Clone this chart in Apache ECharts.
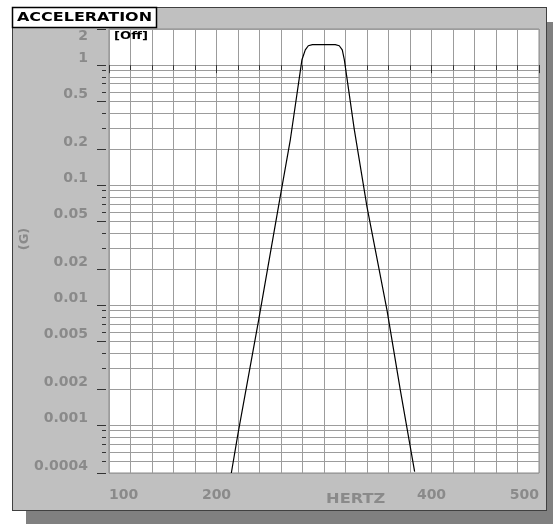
<!DOCTYPE html>
<html>
<head>
<meta charset="utf-8">
<script src="https://cdn.jsdelivr.net/npm/echarts@6/dist/echarts.min.js"></script>
<style>
  html, body { margin: 0; padding: 0; background: #ffffff; }
  body { width: 553px; height: 524px; position: relative; overflow: hidden; }
  #shadow { position: absolute; left: 26px; top: 22px; width: 540px; height: 520px; background: #808080; }
  #panel { position: absolute; left: 12px; top: 7px; width: 535px; height: 504px; background: #c0c0c0; border: 1.5px solid #404040; box-sizing: border-box; }
  #chart { position: absolute; left: 0; top: 0; width: 553px; height: 524px; }
</style>
</head>
<body>
<div id="shadow"></div>
<div id="panel"></div>
<div id="chart"></div>
<script>
// ---- data ----
const freqHz = [213.8, 220, 239.2, 258.7, 268.7, 279.5, 282.6, 285.4, 289.2, 300, 310.5, 314.2, 317, 318.9, 328.2, 340, 358.6, 371, 384.3];
const accelG = [0.0004, 0.00085, 0.0075, 0.075, 0.24, 1.11, 1.34, 1.45, 1.48, 1.48, 1.48, 1.45, 1.34, 1.11, 0.29, 0.066, 0.0091, 0.00196, 0.00041];

const xMin = 100, xMax = 500, xStep = 20;
const xLabelTicks = [100, 200, 400, 500];

const yMin = 0.0004, yMax = 2;
const yMajorTicks = [2, 1, 0.5, 0.2, 0.1, 0.05, 0.02, 0.01, 0.005, 0.002, 0.001, 0.0004];
const yGridValues = [2, 1, 0.9, 0.8, 0.7, 0.6, 0.5, 0.4, 0.3, 0.2,
  0.1, 0.09, 0.08, 0.07, 0.06, 0.05, 0.04, 0.03, 0.02,
  0.01, 0.009, 0.008, 0.007, 0.006, 0.005, 0.004, 0.003, 0.002,
  0.001, 0.0009, 0.0008, 0.0007, 0.0006, 0.0005, 0.0004];

// ---- chart ----
const lg = Math.log10;
const yLo = lg(yMin), yHi = lg(yMax);
const seriesData = freqHz.map((f, i) => [f, lg(accelG[i])]);
const labelFont = { color: '#8a8a8a', fontWeight: 'bold', fontSize: 14, fontFamily: 'DejaVu Sans' };
const tickColor = '#333333';
const gridColor = '#9c9c9c';
const yFmt = v => String(+Math.pow(10, v).toPrecision(1));

const chart = echarts.init(document.getElementById('chart'), null, { renderer: 'canvas' });
chart.setOption({
  animation: false,
  backgroundColor: 'transparent',
  grid: { left: 109, top: 29, right: 14, bottom: 51, show: true, backgroundColor: '#ffffff', borderColor: '#8a8a8a', borderWidth: 1 },
  xAxis: [
    {
      type: 'value', position: 'bottom', min: xMin, max: xMax, interval: xStep,
      axisLine: { show: false },
      axisTick: { show: true, length: 5, lineStyle: { color: tickColor, width: 1 } },
      axisLabel: { show: false },
      splitLine: { show: true, lineStyle: { color: gridColor, width: 1 } }
    },
    {
      type: 'value', position: 'bottom', min: xMin, max: xMax,
      axisLine: { show: false },
      axisTick: { show: true, length: 8, customValues: xLabelTicks, lineStyle: { color: tickColor, width: 1 } },
      axisLabel: Object.assign({ show: true, customValues: xLabelTicks, margin: 15, alignMinLabel: 'left', alignMaxLabel: 'right' }, labelFont),
      splitLine: { show: false }
    }
  ],
  yAxis: [
    {
      type: 'value', position: 'left', min: yLo, max: yHi, offset: 3,
      axisLine: { show: false },
      axisTick: { show: true, length: 4, customValues: yGridValues.map(lg), lineStyle: { color: tickColor, width: 1 } },
      axisLabel: { show: false },
      splitLine: { show: true, lineStyle: { color: gridColor, width: 1 } }
    },
    {
      type: 'value', position: 'left', min: yLo, max: yHi, offset: 3,
      axisLine: { show: false },
      axisTick: { show: true, length: 9, customValues: yMajorTicks.map(lg), lineStyle: { color: tickColor, width: 1 } },
      axisLabel: Object.assign({ show: true, customValues: yMajorTicks.slice(1).map(lg), margin: 18, verticalAlign: 'bottom', formatter: yFmt }, labelFont),
      splitLine: { show: false }
    },
    {
      type: 'value', position: 'left', min: yLo, max: yHi, offset: 3,
      axisLine: { show: false },
      axisTick: { show: false },
      axisLabel: Object.assign({ show: true, customValues: [lg(yMajorTicks[0])], margin: 18, verticalAlign: 'top', formatter: yFmt }, labelFont),
      splitLine: { show: false }
    }
  ],
  series: [{
    type: 'line', xAxisIndex: 0, yAxisIndex: 0, data: seriesData,
    symbol: 'none', clip: true, smooth: false,
    lineStyle: { color: '#000000', width: 1.2 }
  }],
  graphic: [
    { type: 'rect', z: 100, shape: { x: 12.5, y: 7.5, width: 144, height: 20 }, style: { fill: '#ffffff', stroke: '#000000', lineWidth: 1.5 } },
    { type: 'text', z: 101, x: 84.5, y: 17.8, scaleX: 1.23, style: { text: 'ACCELERATION', font: 'bold 13px "DejaVu Sans"', fill: '#000000', align: 'center', verticalAlign: 'middle', textAlign: 'center', textVerticalAlign: 'middle' } },
    { type: 'text', z: 101, x: 114, y: 36.5, scaleX: 1.2, style: { text: '[Off]', font: 'bold 11px "DejaVu Sans"', fill: '#000000', align: 'left', verticalAlign: 'middle', textAlign: 'left', textVerticalAlign: 'middle' } },
    { type: 'text', z: 101, x: 355.7, y: 499, scaleX: 1.2, style: { text: 'HERTZ', font: 'bold 13.5px "DejaVu Sans"', fill: '#8a8a8a', align: 'center', verticalAlign: 'middle', textAlign: 'center', textVerticalAlign: 'middle' } },
    { type: 'text', z: 101, x: 25, y: 239, rotation: Math.PI / 2, style: { text: '(G)', font: 'bold 13px "DejaVu Sans"', fill: '#8a8a8a', align: 'center', verticalAlign: 'middle', textAlign: 'center', textVerticalAlign: 'middle' } }
  ]
});
</script>
</body>
</html>
